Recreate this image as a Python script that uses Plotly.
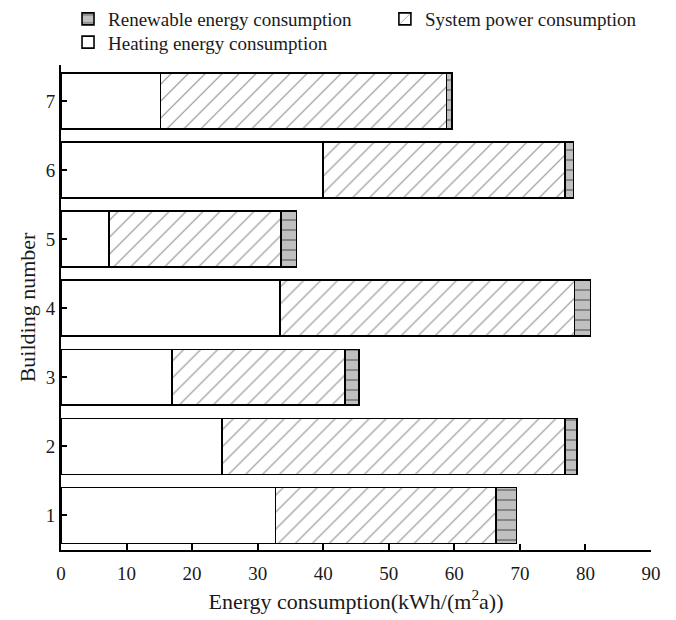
import plotly.graph_objects as go

buildings = [1, 2, 3, 4, 5, 6, 7]
heating = [32.7, 24.6, 16.9, 33.4, 7.3, 40.0, 15.2]
system_power = [33.7, 52.3, 26.4, 44.9, 26.3, 36.9, 43.6]
renewable = [3.1, 1.8, 2.2, 2.5, 2.3, 1.3, 0.8]
x_ticks = [0, 10, 20, 30, 40, 50, 60, 70, 80, 90]

FONT = "Liberation Serif"
TXT = "#1a1a1a"
line = dict(color="black", width=1.6)

fig = go.Figure()
fig.add_trace(go.Bar(
    y=buildings, x=heating, orientation="h", name="Heating energy consumption",
    marker=dict(color="white", line=line), legend="legend3", showlegend=True,
))
fig.add_trace(go.Bar(
    y=buildings, x=system_power, orientation="h", name="System power consumption",
    marker=dict(color="white", line=line,
                pattern=dict(shape="/", fgcolor="#1a1a1a", bgcolor="white", size=12, solidity=0.09)),
    legend="legend2", showlegend=True,
))
fig.add_trace(go.Bar(
    y=buildings, x=renewable, orientation="h", name="Renewable energy consumption",
    marker=dict(color="#c0c0c0", line=line,
                pattern=dict(shape="-", fgcolor="#222222", bgcolor="#c0c0c0", size=10, solidity=0.15)),
    legend="legend", showlegend=True,
))

leg_common = dict(orientation="v", xanchor="left", yanchor="top", visible=True,
                  font=dict(family=FONT, size=19, color=TXT), bgcolor="rgba(0,0,0,0)")

fig.update_layout(
    width=676, height=620,
    showlegend=True,
    barmode="stack", bargap=0.19,
    plot_bgcolor="white", paper_bgcolor="white",
    margin=dict(l=61, r=25, t=65, b=70, autoexpand=False),
    font=dict(family=FONT, size=19, color=TXT),
    legend=dict(x=0.0119, y=1.134, **leg_common),
    legend2=dict(x=0.549, y=1.134, **leg_common),
    legend3=dict(x=0.0119, y=1.086, **leg_common),
    xaxis=dict(
        range=[0, 90], tickvals=x_ticks, ticks="inside", ticklen=6, tickwidth=2,
        tickcolor="black", showline=True, linecolor="black", linewidth=2,
        showgrid=False, zeroline=False, ticklabelstandoff=5,
        title=dict(text="Energy consumption(kWh/(m<sup>2</sup>a))", font=dict(size=22), standoff=11),
        tickfont=dict(size=19),
    ),
    yaxis=dict(
        range=[0.5, 7.52], tickvals=buildings, ticks="inside", ticklen=6, tickwidth=2,
        tickcolor="black", showline=True, linecolor="black", linewidth=2,
        showgrid=False, zeroline=False,
        title=dict(text="Building number", font=dict(size=22), standoff=4),
        tickfont=dict(size=19),
    ),
)

fig.write_html("out.html")
